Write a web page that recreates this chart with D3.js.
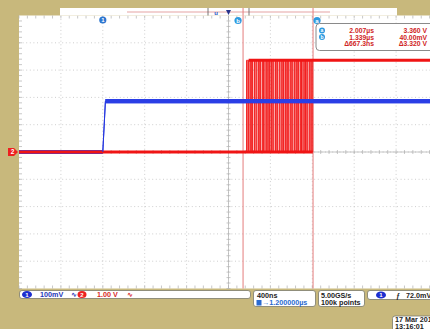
<!DOCTYPE html>
<html>
<head>
<meta charset="utf-8">
<script src="https://cdn.jsdelivr.net/npm/d3@7/dist/d3.min.js"></script>
<style>
  body { margin: 0; background: #c8b87c; }
  svg { display: block; font-family: "Liberation Sans", "DejaVu Sans", sans-serif; }
  .grid { stroke: #c2c2c2; stroke-width: 0.8; stroke-dasharray: 1,2.6; }
  .tick { stroke: #b0b0b0; stroke-width: 0.7; }
  .cursor { stroke: #e47c7c; stroke-width: 1; }
  .ro { font-size: 6.8px; font-weight: bold; fill: #d02424; }
  .st { font-size: 7.2px; font-weight: bold; }
</style>
</head>
<body>
<script>
// ---- data (time in µs) ----
// ch1 (blue), mV
var ch1Time = [-0.8, 0.0, 0.025, 3.2];
var ch1Volt = [0, 0, 186, 186];
// ch2 (red), V: low until the burst, then settles high
var ch2Low = 0.0;
var ch2High = 3.36;
var ch2Start = -0.8;
var ch2End = 3.2;
// edges of the burst, alternating up / down
var burstEdges = [1.372, 1.384, 1.392, 1.397, 1.411, 1.418, 1.426, 1.431, 1.447, 1.452, 1.463,
  1.470, 1.484, 1.489, 1.498, 1.506, 1.521, 1.527, 1.535, 1.541, 1.556, 1.562, 1.574,
  1.580, 1.591, 1.598, 1.611, 1.617, 1.626, 1.633, 1.648, 1.654, 1.663, 1.669, 1.684,
  1.690, 1.702, 1.709, 1.718, 1.725, 1.739, 1.745, 1.756, 1.762, 1.771, 1.778, 1.793,
  1.799, 1.808, 1.815, 1.829, 1.835, 1.846, 1.852, 1.861, 1.868, 1.883, 1.889, 1.897,
  1.904, 1.918, 1.924, 1.935, 1.941, 1.950, 1.957, 1.971, 1.977, 1.986, 1.994, 2.004];
var triggerTime = 0.0;
var cursorB = 1.339, cursorA = 2.007;
var readRows = [
  { icon: "a", t: "2.007µs", v: "3.360 V" },
  { icon: "b", t: "1.339µs", v: "40.00mV" },
  { icon: "",  t: "Δ667.3ns", v: "Δ3.320 V" }
];

var W = 430, H = 329;
var pLeft = 19, pTop = 15.5, pBottom = 288.5;

var svg = d3.select("body").append("svg")
  .attr("width", W).attr("height", H);

// scales: 10 div x 400ns, 10 div vertical
var x = d3.scaleLinear().domain([-0.8, 3.2]).range([pLeft, 438]);
var y1 = d3.scaleLinear().domain([-500, 500]).range([pBottom, pTop]);   // 100mV/div
var y2 = d3.scaleLinear().domain([-5, 5]).range([pBottom, pTop]);       // 1.00V/div

// plot area
svg.append("rect").attr("x", pLeft).attr("y", pTop).attr("width", W - pLeft).attr("height", pBottom - pTop)
  .attr("fill", "#fff");

// grid
var xDiv = d3.range(-0.8, 3.21, 0.4);
var yDiv = d3.range(-5, 5.01, 1);
xDiv.forEach(function(t, i) {
  if (i == 0) return;
  svg.append("line").attr("class", "grid")
    .attr("x1", x(t)).attr("x2", x(t)).attr("y1", pTop).attr("y2", pBottom);
});
yDiv.forEach(function(v, i) {
  if (i == 0 || i == yDiv.length - 1) return;
  svg.append("line").attr("class", "grid")
    .attr("x1", pLeft).attr("x2", W).attr("y1", y2(v)).attr("y2", y2(v));
});

// center cross with minor ticks
var cx = x(1.2), cy = y2(0);
svg.append("line").attr("class", "tick").attr("x1", pLeft).attr("x2", W).attr("y1", cy).attr("y2", cy);
svg.append("line").attr("class", "tick").attr("x1", cx).attr("x2", cx).attr("y1", pTop).attr("y2", pBottom);
d3.range(-0.8, 3.2, 0.08).forEach(function(t) {
  var px = x(t);
  svg.append("line").attr("class", "tick").attr("x1", px).attr("x2", px).attr("y1", cy - 2).attr("y2", cy + 2);
  svg.append("line").attr("class", "tick").attr("x1", px).attr("x2", px).attr("y1", pTop).attr("y2", pTop + 3);
  svg.append("line").attr("class", "tick").attr("x1", px).attr("x2", px).attr("y1", pBottom - 3).attr("y2", pBottom);
});
d3.range(-5, 5, 0.2).forEach(function(v) {
  var py = y2(v);
  svg.append("line").attr("class", "tick").attr("x1", cx - 2).attr("x2", cx + 2).attr("y1", py).attr("y2", py);
  svg.append("line").attr("class", "tick").attr("x1", pLeft).attr("x2", pLeft + 3).attr("y1", py).attr("y2", py);
});

// cursors
[cursorB, cursorA].forEach(function(t) {
  svg.append("line").attr("class", "cursor")
    .attr("x1", x(t)).attr("x2", x(t)).attr("y1", 9).attr("y2", pBottom);
});

// traces
var ch1 = ch1Time.map(function(t, i) { return [t, ch1Volt[i]]; });
var line1 = d3.line().x(function(d) { return x(d[0]); }).y(function(d) { return y1(d[1]); });
var line2 = d3.line().curve(d3.curveStepAfter)
  .x(function(d) { return x(d[0]); }).y(function(d) { return y2(d[1]); });

var ch2 = [[ch2Start, ch2Low]];
burstEdges.forEach(function(t, i) { ch2.push([t, i % 2 == 0 ? ch2High : ch2Low]); });
ch2.push([ch2End, ch2High]);

// flat parts of ch1 drawn thick (noise band), edges thin
var ch1Flat = [];
for (var i = 1; i < ch1.length; i++) {
  if (ch1[i][1] == ch1[i - 1][1]) ch1Flat.push([ch1[i - 1], ch1[i]]);
}
function drawCh1(pred) {
  svg.append("path").datum(ch1.filter(pred)).attr("d", line1)
    .attr("fill", "none").attr("stroke", "#2436e0").attr("stroke-width", 1);
  ch1Flat.filter(function(s) { return pred(s[0]) && pred(s[1]); }).forEach(function(s) {
    svg.append("path").datum(s).attr("d", line1)
      .attr("fill", "none").attr("stroke", "#2a3ee6").attr("stroke-width", 4.2);
  });
}
drawCh1(function(d) { return true; });

// burst, thin
svg.append("path").datum(ch2).attr("d", line2)
  .attr("fill", "none").attr("stroke", "#f01010").attr("stroke-width", 0.9);
// settled low and high levels, thick
var lastEdge = burstEdges[burstEdges.length - 1];
svg.append("path").datum([[ch2Start, ch2Low], [lastEdge, ch2Low]]).attr("d", line2)
  .attr("fill", "none").attr("stroke", "#f01414").attr("stroke-width", 3);
svg.append("path").datum([[burstEdges[2], ch2High], [ch2End, ch2High]]).attr("d", line2)
  .attr("fill", "none").attr("stroke", "#f01414").attr("stroke-width", 3);

// ch1 after the trigger sits on top of ch2
drawCh1(function(d) { return d[0] >= triggerTime; });

// top record bar
svg.append("rect").attr("x", 60).attr("y", 8).attr("width", 337).attr("height", 7.5).attr("fill", "#fff");
svg.append("line").attr("x1", 127).attr("x2", 330).attr("y1", 12).attr("y2", 12)
  .attr("stroke", "#e6a4a4").attr("stroke-width", 1.2);
[208, 249].forEach(function(px) {
  svg.append("line").attr("x1", px).attr("x2", px).attr("y1", 8).attr("y2", 15.5)
    .attr("stroke", "#555").attr("stroke-width", 0.8);
});
svg.append("text").attr("x", 216).attr("y", 14.5).attr("text-anchor", "middle")
  .attr("font-size", 6).attr("font-weight", "bold").attr("fill", "#2a58c8").text("u");
svg.append("path").attr("d", "M" + (cx - 2.5) + ",10 L" + (cx + 2.5) + ",10 L" + cx + ",15 Z").attr("fill", "#28348c");
[cursorB, cursorA].forEach(function(t) {
  var px = x(t);
  svg.append("line").attr("x1", px).attr("x2", px).attr("y1", 8).attr("y2", 15.5)
    .attr("stroke", "#e47c7c").attr("stroke-width", 1);
});

// markers
function badge(px, py, r, fill, label, fs) {
  svg.append("circle").attr("cx", px).attr("cy", py).attr("r", r).attr("fill", fill);
  svg.append("text").attr("x", px).attr("y", py + fs * 0.36).attr("text-anchor", "middle")
    .attr("font-size", fs).attr("font-weight", "bold").attr("fill", "#fff").text(label);
}
badge(x(triggerTime), 20, 3.6, "#2d76d0", "1", 6);
badge(x(cursorB) - 5, 20.5, 3.6, "#2d9ae0", "b", 6);
badge(x(cursorA) + 4, 20.5, 3.6, "#2d9ae0", "a", 6);
// ch2 ground marker
svg.append("path").attr("d", "M8," + (cy - 4) + " L14," + (cy - 4) + " L18," + cy + " L14," + (cy + 4) + " L8," + (cy + 4) + " Z")
  .attr("fill", "#ee2020");
svg.append("text").attr("x", 12.5).attr("y", cy + 2.3).attr("text-anchor", "middle")
  .attr("font-size", 6.5).attr("font-weight", "bold").attr("fill", "#fff").text("2");

// cursor readout
svg.append("rect").attr("x", 316).attr("y", 23.5).attr("width", 125).attr("height", 27).attr("rx", 3.5)
  .attr("fill", "#fff").attr("stroke", "#8a8a8a").attr("stroke-width", 1);
readRows.forEach(function(r, i) {
  var ry = 30.5 + i * 6.6;
  if (r.icon) badge(322, ry, 3, "#2d9ae0", r.icon, 5);
  svg.append("text").attr("class", "ro").attr("x", 374).attr("y", ry + 2.4).attr("text-anchor", "end").text(r.t);
  svg.append("text").attr("class", "ro").attr("x", 427).attr("y", ry + 2.4).attr("text-anchor", "end").text(r.v);
});

// status bar
function box(bx, by, bw, bh) {
  svg.append("rect").attr("x", bx).attr("y", by).attr("width", bw).attr("height", bh).attr("rx", 2.5)
    .attr("fill", "#fff").attr("stroke", "#7a7a6a").attr("stroke-width", 0.8);
}
box(19.5, 290.5, 231, 8);
svg.append("ellipse").attr("cx", 27).attr("cy", 294.5).attr("rx", 5).attr("ry", 3.6).attr("fill", "#1c2ed0");
svg.append("text").attr("x", 27).attr("y", 296.8).attr("text-anchor", "middle").attr("font-size", 6)
  .attr("font-weight", "bold").attr("fill", "#fff").text("1");
svg.append("text").attr("class", "st").attr("x", 40).attr("y", 297.3).attr("fill", "#2436b8").text("100mV");
svg.append("text").attr("class", "st").attr("x", 71).attr("y", 297.3).attr("fill", "#2436b8").attr("font-size", 6).text("∿");
svg.append("ellipse").attr("cx", 82).attr("cy", 294.5).attr("rx", 4.5).attr("ry", 3.6).attr("fill", "#ee2020");
svg.append("text").attr("x", 82).attr("y", 296.8).attr("text-anchor", "middle").attr("font-size", 6)
  .attr("font-weight", "bold").attr("fill", "#fff").text("2");
svg.append("text").attr("class", "st").attr("x", 97).attr("y", 297.3).attr("fill", "#d82828").text("1.00 V");
svg.append("text").attr("class", "st").attr("x", 127).attr("y", 297.3).attr("fill", "#d82828").attr("font-size", 6).text("∿");

box(253.5, 290.5, 62, 16);
svg.append("text").attr("class", "st").attr("x", 257).attr("y", 297.5).attr("fill", "#222").text("400ns");
svg.append("rect").attr("x", 256.5).attr("y", 300).attr("width", 5).attr("height", 5.5).attr("fill", "#2a6ad0");
svg.append("text").attr("class", "st").attr("x", 262).attr("y", 305.3).attr("fill", "#2a6ad0").text("→1.200000µs");

box(318.5, 290.5, 46, 16);
svg.append("text").attr("class", "st").attr("x", 321).attr("y", 297.5).attr("fill", "#222").text("5.00GS/s");
svg.append("text").attr("class", "st").attr("x", 321).attr("y", 305.3).attr("fill", "#222").text("100k points");

box(367.5, 290.5, 70, 9);
svg.append("ellipse").attr("cx", 381).attr("cy", 295).attr("rx", 5).attr("ry", 3.6).attr("fill", "#1c2ed0");
svg.append("text").attr("x", 381).attr("y", 297.3).attr("text-anchor", "middle").attr("font-size", 6)
  .attr("font-weight", "bold").attr("fill", "#fff").text("1");
svg.append("text").attr("class", "st").attr("x", 396).attr("y", 297.8).attr("fill", "#222").text("ƒ");
svg.append("text").attr("class", "st").attr("x", 406).attr("y", 297.8).attr("fill", "#222").text("72.0mV");

box(392.5, 316, 45, 16);
svg.append("text").attr("class", "st").attr("x", 395).attr("y", 321.6).attr("fill", "#222").attr("font-size", 6).text("17 Mar 2017");
svg.append("text").attr("class", "st").attr("x", 395).attr("y", 328.8).attr("fill", "#222").attr("font-size", 6).text("13:16:01");
</script>
</body>
</html>
